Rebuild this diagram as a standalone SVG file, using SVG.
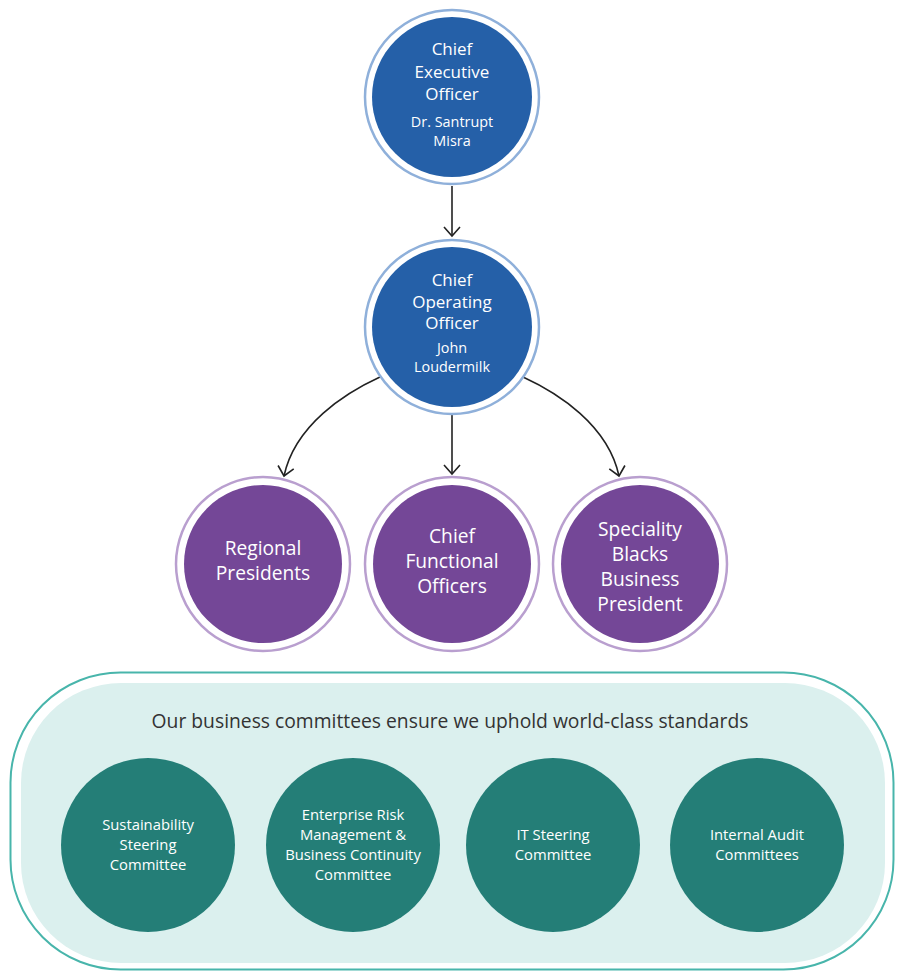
<svg xmlns="http://www.w3.org/2000/svg" width="897" height="971" viewBox="0 0 897 971">
<defs>
<style>
text{font-family:"Open Sans","Noto Sans","Liberation Sans",sans-serif;text-anchor:middle;fill:#ffffff}
.ring-b{fill:#ffffff;stroke:#8fb0da;stroke-width:2.5}
.fill-b{fill:#2560a8}
.ring-p{fill:#ffffff;stroke:#b99fcf;stroke-width:2.5}
.fill-p{fill:#744797}
.fill-t{fill:#247e77}
.t17{font-size:17px}
.t14{font-size:14.4px}
.t19{font-size:19.2px}
.t15{font-size:14.8px}
.conn{fill:none;stroke:#222222;stroke-width:1.6}
</style>
<marker id="arr" viewBox="0 0 24 24" refX="12" refY="12" markerWidth="24" markerHeight="24" markerUnits="userSpaceOnUse" orient="auto">
<path d="M3,4 L12,12 L3,20" fill="none" stroke="#222222" stroke-width="1.6"/>
</marker>
</defs>
<rect width="897" height="971" fill="#ffffff"/>

<g id="committees-panel">
<rect x="10.5" y="672.5" width="883" height="297" rx="110" ry="110" fill="#ffffff" stroke="#48b5ab" stroke-width="2"/>
<rect x="21" y="683" width="864" height="280" rx="100" ry="100" fill="#dbf0ee"/>
<text x="450" y="728" style="fill:#333333;font-size:19.3px">Our business committees ensure we uphold world-class standards</text>
</g>

<g id="connectors">
<line class="conn" x1="452" y1="186" x2="452" y2="236" marker-end="url(#arr)"/>
<line class="conn" x1="452" y1="415" x2="452" y2="474" marker-end="url(#arr)"/>
<path class="conn" d="M380,377 C345,393 295,425 284,476" marker-end="url(#arr)"/>
<path class="conn" d="M523,377 C558,393 608,425 619,476" marker-end="url(#arr)"/>
</g>

<g id="ceo">
<circle class="ring-b" cx="452" cy="97" r="87"/>
<circle class="fill-b" cx="452" cy="97" r="80"/>
<text class="t17" x="452" y="55">Chief</text>
<text class="t17" x="452" y="78">Executive</text>
<text class="t17" x="452" y="100">Officer</text>
<text class="t14" x="452" y="127">Dr. Santrupt</text>
<text class="t14" x="452" y="146">Misra</text>
</g>

<g id="coo">
<circle class="ring-b" cx="452" cy="327" r="87"/>
<circle class="fill-b" cx="452" cy="327" r="80"/>
<text class="t17" x="452" y="286">Chief</text>
<text class="t17" x="452" y="308">Operating</text>
<text class="t17" x="452" y="329">Officer</text>
<text class="t14" x="452" y="353">John</text>
<text class="t14" x="452" y="372">Loudermilk</text>
</g>

<g id="regional-presidents">
<circle class="ring-p" cx="263" cy="564" r="87"/>
<circle class="fill-p" cx="263" cy="564" r="79"/>
<text class="t19" x="263" y="555">Regional</text>
<text class="t19" x="263" y="580">Presidents</text>
</g>

<g id="chief-functional-officers">
<circle class="ring-p" cx="452" cy="564" r="87"/>
<circle class="fill-p" cx="452" cy="564" r="79"/>
<text class="t19" x="452" y="543">Chief</text>
<text class="t19" x="452" y="568">Functional</text>
<text class="t19" x="452" y="593">Officers</text>
</g>

<g id="speciality-blacks">
<circle class="ring-p" cx="640" cy="564" r="87"/>
<circle class="fill-p" cx="640" cy="564" r="79"/>
<text class="t19" x="640" y="536">Speciality</text>
<text class="t19" x="640" y="561">Blacks</text>
<text class="t19" x="640" y="586">Business</text>
<text class="t19" x="640" y="611">President</text>
</g>

<g id="sustainability">
<circle class="fill-t" cx="148" cy="845" r="87"/>
<text class="t15" x="148" y="830">Sustainability</text>
<text class="t15" x="148" y="850">Steering</text>
<text class="t15" x="148" y="870">Committee</text>
</g>

<g id="erm">
<circle class="fill-t" cx="353" cy="845" r="87"/>
<text class="t15" x="353" y="820">Enterprise Risk</text>
<text class="t15" x="353" y="840">Management &amp;</text>
<text class="t15" x="353" y="860">Business Continuity</text>
<text class="t15" x="353" y="880">Committee</text>
</g>

<g id="it-steering">
<circle class="fill-t" cx="553" cy="845" r="87"/>
<text class="t15" x="553" y="840">IT Steering</text>
<text class="t15" x="553" y="860">Committee</text>
</g>

<g id="internal-audit">
<circle class="fill-t" cx="757" cy="845" r="87"/>
<text class="t15" x="757" y="840">Internal Audit</text>
<text class="t15" x="757" y="860">Committees</text>
</g>
</svg>
